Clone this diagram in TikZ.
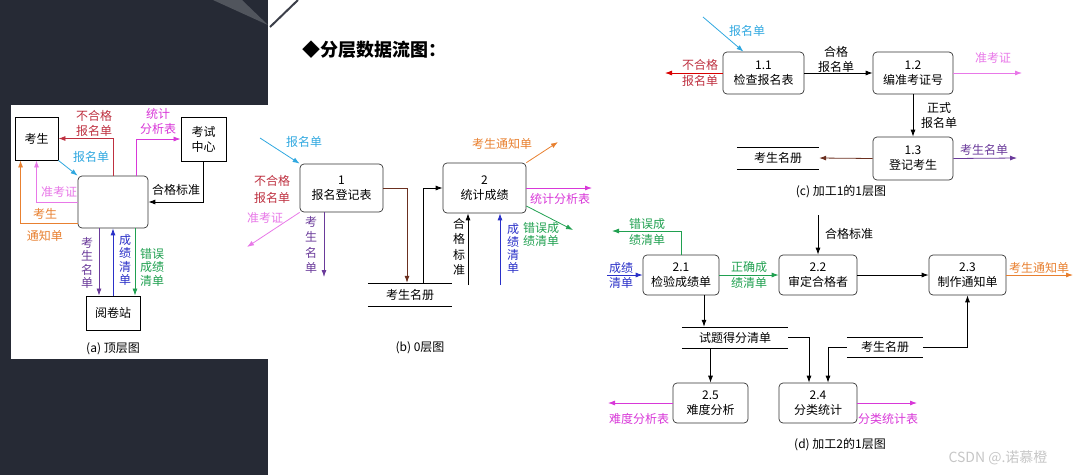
\documentclass[tikz,border=0pt]{standalone}
\usepackage{fontspec}
\newfontfamily\cjk{Noto Sans CJK SC}
\usetikzlibrary{arrows.meta,positioning}
\definecolor{slide}{HTML}{262A35}
\definecolor{dred}{HTML}{BE3040}
\definecolor{cyanc}{HTML}{30A8E0}
\definecolor{pinkc}{HTML}{E878E8}
\definecolor{magc}{HTML}{D838D8}
\definecolor{orangec}{HTML}{E88030}
\definecolor{purpc}{HTML}{6A3A9A}
\definecolor{bluec}{HTML}{2A30C8}
\definecolor{greenc}{HTML}{20A050}
\definecolor{brownc}{HTML}{6B3020}

\begin{document}
\begin{tikzpicture}[x=1pt,y=-1pt,>={Latex[length=7pt,width=5pt]},
  every node/.style={font=\cjk\fontsize{12}{15}\selectfont},
  proc/.style={draw=black!80,rounded corners=4pt,align=center,line width=.7pt,inner sep=1pt},
  ent/.style={draw,line width=.9pt,align=center,inner sep=1pt},
  lbl/.style={align=center,inner sep=0pt},
  vlbl/.style={align=center,inner sep=0pt,font=\cjk\fontsize{12}{13.5}\selectfont},
  wlbl/.style={align=center,inner sep=0pt,font=\cjk\fontsize{12}{16}\selectfont},
  flow/.style={->,line width=.8pt},
  store/.style={inner sep=0pt}]

\useasboundingbox (0,0) rectangle (1073,475);
% slide background
\fill[slide] (0,0) rectangle (268,475);
\fill[slide!80!white] (213,0) -- (242,0) -- (268,25) -- cycle;
\fill[white] (11,105) rectangle (268,359);
\draw[slide!90!white,line width=2pt] (270,27) -- (298,0);
\node[anchor=west,inner sep=0pt,font=\cjk\bfseries\fontsize{18}{20}\selectfont] (title) at (302,50) {◆分层数据流图：};

% (a) top level
\node[ent,minimum width=43pt,minimum height=43pt] (ks) at (36.5,138.5) {考生};
\node[ent,minimum width=45pt,minimum height=44pt] (zx) at (203.5,139) {考试\\中心};
\node[proc,minimum width=70pt,minimum height=52pt] (p0) at (113,202) {};
\node[ent,minimum width=54pt,minimum height=34pt] (yjz) at (113,313) {阅卷站};
\node[lbl] (capa) at (113,349) {(a) 顶层图};

\draw[flow,dred] (p0.north) |- (ks.east);
\node[lbl,text=dred] (la1) at (94,123) {不合格\\报名单};
\draw[flow,magc] ([xshift=23pt]p0.north) |- (zx.west);
\node[lbl,text=magc] (la2) at (158,121) {统计\\分析表};
\draw[flow,cyanc] (ks.south east) -- (p0.north west);
\node[lbl,text=cyanc] (la3) at (91,157) {报名单};
\draw[flow,pinkc] (p0.west) -| (ks.south);
\node[lbl,text=pinkc] (la4) at (59,192) {准考证};
\draw[flow,orangec] ([yshift=-21pt]p0.west) -| ([xshift=6pt]ks.south west);
\node[lbl,text=orangec] (la5) at (45,214) {考生};
\node[lbl,text=orangec] (la6) at (45,236) {通知单};
\draw[flow] (zx.south) |- (p0.east);
\node[lbl] (la7) at (176,190) {合格标准};
\draw[flow,purpc] ([xshift=-14pt]p0.south) -- ([xshift=-14pt]p0.south |- yjz.north);
\node[vlbl,text=purpc] (la8) at (87,263) {考\\生\\名\\单};
\draw[flow,bluec] (yjz.north) -- (p0.south);
\node[vlbl,text=bluec] (la9) at (125,260) {成\\绩\\清\\单};
\draw[flow,greenc] ([xshift=22pt]p0.south) -- ([xshift=22pt]p0.south |- yjz.north);
\node[vlbl,text=greenc] (la10) at (152,267) {错误\\成绩\\清单};

% (b) level 0
\node[proc,minimum width=83pt,minimum height=48pt] (p1) at (341.5,188) {1\\报名登记表};
\node[proc,minimum width=83pt,minimum height=50pt] (p2) at (484.5,188) {2\\统计成绩};
\node[store,minimum width=84pt,minimum height=23pt] (d1) at (410,294.5) {考生名册};
\draw (d1.north west) -- (d1.north east) (d1.south west) -- (d1.south east);
\node[lbl] (capb) at (420,348) {(b) 0层图};

\coordinate (b1) at (260,138);
\draw[flow,cyanc] (b1) -- (p1.north west);
\node[lbl,text=cyanc] (lb1) at (304,142) {报名单};
\node[wlbl,text=dred,font=\cjk\fontsize{12}{17}\selectfont] (lb2) at (272,189) {不合格\\报名单};
\coordinate (b2) at (247,247);
\draw[flow,pinkc] (p1.south west) -- (b2);
\node[lbl,text=pinkc] (lb3) at (265,218) {准考证};
\coordinate (b3) at (324,277);
\draw[flow,purpc] (p1.south -| b3) -- (b3);
\node[vlbl,text=purpc,font=\cjk\fontsize{12}{15.3}\selectfont] (lb4) at (311,245) {考\\生\\名\\单};
\draw[flow,brownc] (p1.east) -| ([xshift=-3pt]d1.north);
\draw[flow] ([xshift=13pt]d1.north) |- (p2.west);
\coordinate (b4) at (558,142);
\draw[flow,orangec] (p2.north east) -- (b4);
\node[lbl,text=orangec] (lb5) at (502,144) {考生通知单};
\coordinate (b5) at (592,188);
\draw[flow,magc] (p2.east) -- (b5);
\node[lbl,text=magc] (lb6) at (560,199) {统计分析表};
\coordinate (b6) at (573,230);
\draw[flow,greenc] ([yshift=-18pt]p2.east) -- (b6);
\node[lbl,text=greenc,font=\cjk\fontsize{12}{13}\selectfont] (lb7) at (541,234) {错误成\\绩清单};
\coordinate (b7) at (468,285);
\draw[flow] (b7) -- (b7 |- p2.south);
\node[vlbl,font=\cjk\fontsize{12}{15.5}\selectfont] (lb8) at (459,247) {合\\格\\标\\准};
\coordinate (b8) at (500,285);
\draw[flow,bluec] (b8) -- (b8 |- p2.south);
\node[vlbl,text=bluec,font=\cjk\fontsize{12}{13}\selectfont] (lb9) at (513,248) {成\\绩\\清\\单};

% (c) level 1 of process 1
\node[proc,minimum width=81pt,minimum height=42pt] (p11) at (763.5,73) {1.1\\检查报名表};
\node[proc,minimum width=80pt,minimum height=42pt] (p12) at (913,73) {1.2\\编准考证号};
\node[proc,minimum width=80pt,minimum height=43pt] (p13) at (913,158.5) {1.3\\登记考生};
\node[store,minimum width=82pt,minimum height=22pt] (d2) at (778,158) {考生名册};
\draw (d2.north west) -- (d2.north east) (d2.south west) -- (d2.south east);
\node[lbl] (capc) at (841,192) {(c) 加工1的1层图};

\coordinate (c1) at (703,17);
\draw[flow,cyanc] (c1) -- ([xshift=-20pt]p11.north);
\node[lbl,text=cyanc] (lc1) at (747,31) {报名单};
\coordinate (c2) at (665,73);
\draw[flow,red!85!black] (p11.west) -- (c2);
\node[wlbl,text=dred] (lc2) at (700,73) {不合格\\报名单};
\draw[flow] (p11.east) -- (p12.west);
\node[lbl] (lc3) at (836,59) {合格\\报名单};
\coordinate (c3) at (1022,73);
\draw[flow,pinkc] (p12.east) -- (c3);
\node[lbl,text=pinkc] (lc4) at (993,58) {准考证};
\draw[flow] (p12.south) -- (p13.north);
\node[lbl] (lc5) at (939,115) {正式\\报名单};
\draw[flow,brownc] (p13.west) -- (d2.east);
\coordinate (c4) at (1017,158);
\draw[flow,purpc] (p13.east) -- (c4);
\node[lbl,text=purpc] (lc6) at (984,150) {考生名单};

% (d) level 1 of process 2
\node[proc,minimum width=76pt,minimum height=40pt] (p21) at (681,275) {2.1\\检验成绩单};
\node[proc,minimum width=78pt,minimum height=40pt] (p22) at (818,275) {2.2\\审定合格者};
\node[proc,minimum width=77pt,minimum height=40pt] (p23) at (967.5,275) {2.3\\制作通知单};
\node[proc,minimum width=75pt,minimum height=40pt] (p25) at (710.5,403) {2.5\\难度分析};
\node[proc,minimum width=78pt,minimum height=40pt] (p24) at (818,403) {2.4\\分类统计};
\node[store,minimum width=106pt,minimum height=21pt] (d3) at (735,337.5) {试题得分清单};
\draw (d3.north west) -- (d3.north east) (d3.south west) -- (d3.south east);
\node[store,minimum width=76pt,minimum height=20pt] (d4) at (885,347) {考生名册};
\draw (d4.north west) -- (d4.north east) (d4.south west) -- (d4.south east);
\node[lbl] (capd) at (840,445) {(d) 加工2的1层图};

\coordinate (e1) at (612,231);
\draw[flow,greenc] (p21.north) |- (e1);
\node[wlbl,text=greenc] (ld1) at (647,232) {错误成\\绩清单};
\coordinate (e2) at (607,275);
\draw[flow,bluec] (e2) -- (p21.west);
\node[lbl,text=bluec,font=\cjk\fontsize{12}{15}\selectfont] (ld2) at (621,275) {成绩\\清单};
\draw[flow,greenc] (p21.east) -- (p22.west);
\node[wlbl,text=greenc] (ld3) at (749,275) {正确成\\绩清单};
\coordinate (e3) at (818,215);
\draw[flow] (e3) -- (p22.north);
\node[lbl] (ld4) at (849,234) {合格标准};
\draw[flow] (p22.east) -- (p23.west);
\coordinate (e4) at (1073,275);
\draw[flow,orangec] (p23.east) -- (e4);
\node[lbl,text=orangec] (ld5) at (1039,268) {考生通知单};
\draw[flow] ([xshift=23pt]p21.south) -- ([xshift=23pt]p21.south |- d3.north);
\draw[flow] (p25.north |- d3.south) -- (p25.north);
\draw[flow] (d3.east) -| ([xshift=-9pt]p24.north);
\draw[flow] (d4.west) -| ([xshift=10pt]p24.north);
\draw[flow] (d4.east) -| (p23.south);
\coordinate (e5) at (608,403);
\draw[flow,magc] (p25.west) -- (e5);
\node[lbl,text=magc] (ld6) at (639,419) {难度分析表};
\coordinate (e6) at (917,403);
\draw[flow,magc] (p24.east) -- (e6);
\node[lbl,text=magc] (ld7) at (888,419) {分类统计表};

\node[text=gray!45,inner sep=0pt,font=\cjk\fontsize{14}{16}\selectfont] (wm) at (998,458) {CSDN @.诺慕橙};
\end{tikzpicture}
\end{document}
